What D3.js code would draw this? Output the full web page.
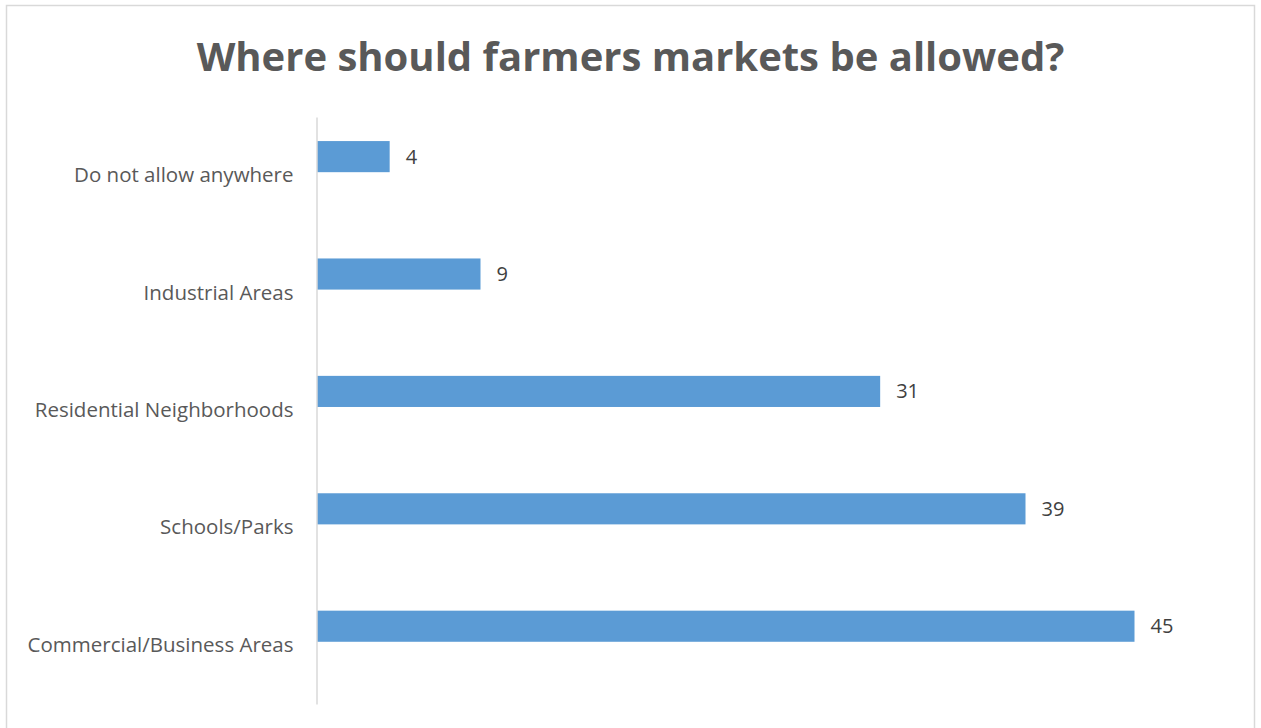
<!DOCTYPE html>
<html>
<head>
<meta charset="utf-8">
<script src="https://cdn.jsdelivr.net/npm/d3@7"></script>
<style>
  html, body { margin: 0; padding: 0; background: #fff; }
  svg { display: block; }
</style>
</head>
<body>
<svg id="chart" width="1261" height="728"></svg>
<script>
// Survey responses, top to bottom
const categories = [
  "Do not allow anywhere",
  "Industrial Areas",
  "Residential Neighborhoods",
  "Schools/Parks",
  "Commercial/Business Areas"
];
const responses = [4, 9, 31, 39, 45];
const chartTitle = "Where should farmers markets be allowed?";

const svg = d3.select("#chart");
const font = "'Open Sans', 'Noto Sans', sans-serif";

// chart frame
svg.append("rect")
  .attr("x", 6.5).attr("y", 5.5)
  .attr("width", 1248).attr("height", 760)
  .attr("fill", "#fff")
  .attr("stroke", "#d9d9d9").attr("stroke-width", 1.5);

// title
svg.append("text")
  .attr("x", 630.5).attr("y", 71)
  .attr("text-anchor", "middle")
  .attr("font-family", font)
  .attr("font-weight", "bold")
  .attr("font-size", 40)
  .attr("fill", "#595959")
  .text(chartTitle);

const plot = { left: 317, top: 117, bottom: 704 };

const x = d3.scaleLinear().domain([0, 45]).range([plot.left, 1134.5]);
const y = d3.scaleBand().domain(categories).range([plot.top, plot.bottom]).paddingInner(0).paddingOuter(0);

const bw = y.bandwidth();
const barOffset = bw * 0.205;
const barH = bw * 0.265;

// bars
svg.append("g").selectAll("rect")
  .data(categories)
  .join("rect")
  .attr("x", x(0))
  .attr("y", d => y(d) + barOffset)
  .attr("width", (d, i) => x(responses[i]) - x(0))
  .attr("height", barH)
  .attr("fill", "#5b9bd5");

// value labels
svg.append("g").selectAll("text")
  .data(categories)
  .join("text")
  .attr("x", (d, i) => x(responses[i]) + 16)
  .attr("y", d => y(d) + barOffset + barH / 2)
  .attr("dy", "0.35em")
  .attr("font-family", font)
  .attr("font-size", 20)
  .attr("fill", "#404040")
  .text((d, i) => responses[i]);

// category axis
const yAxis = d3.axisLeft(y).tickSize(0).tickPadding(23);
const ag = svg.append("g")
  .attr("transform", `translate(${plot.left - 0.5},0)`)
  .call(yAxis);
ag.select(".domain").attr("stroke", "#d9d9d9").attr("stroke-width", 1.5);
ag.selectAll(".tick text")
  .attr("font-family", font)
  .attr("font-size", 20.5)
  .attr("fill", "#595959");
</script>
</body>
</html>
